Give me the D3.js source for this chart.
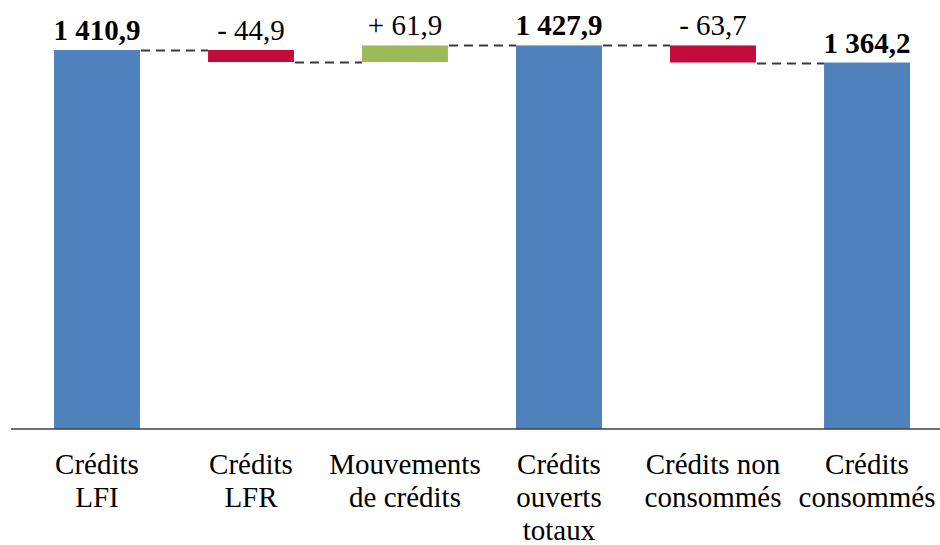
<!DOCTYPE html>
<html>
<head>
<meta charset="utf-8">
<script src="https://cdn.jsdelivr.net/npm/d3@7"></script>
<style>
  body { margin: 0; background: #fff; }
</style>
</head>
<body>
<svg id="chart" width="940" height="545"></svg>
<script>
// waterfall data
const categories = [
  ["Crédits", "LFI"],
  ["Crédits", "LFR"],
  ["Mouvements", "de crédits"],
  ["Crédits", "ouverts", "totaux"],
  ["Crédits non", "consommés"],
  ["Crédits", "consommés"]
];
const values = [1410.9, -44.9, 61.9, 1427.9, -63.7, 1364.2];
const kinds = ["total", "delta", "delta", "total", "delta", "total"];

const layout = {width: 940, height: 545, baseline: 429, left: 20, right: 944};
const fontFamily = "Tinos, 'Times New Roman', serif";

const fr = d3.formatLocale({decimal: ",", thousands: " ", grouping: [3], currency: ["", " €"]});
const fmt = fr.format(",.1f");

// running totals
let running = 0;
const bars = values.map((v, i) => {
  let start, end;
  if (kinds[i] === "total") { start = 0; end = v; running = v; }
  else { start = running; end = running + v; running = end; }
  return {i, v, kind: kinds[i], start, end, lines: categories[i]};
});

const svg = d3.select("#chart");

const x = d3.scaleBand()
  .domain(d3.range(values.length))
  .range([layout.left, layout.right])
  .paddingInner(0.442)
  .paddingOuter(0.221);

const y = d3.scaleLinear()
  .domain([0, 1597])
  .range([layout.baseline, 0]);

const color = d => d.kind === "total" ? "#4F81BD" : (d.v < 0 ? "#C20B3D" : "#9BBB59");

// connectors
const links = bars.slice(0, -1).map((d, i) => ({from: d, to: bars[i + 1]}));
svg.append("g")
  .selectAll("line")
  .data(links)
  .join("line")
  .attr("x1", d => x(d.from.i) + x.bandwidth() + 1)
  .attr("x2", d => x(d.to.i))
  .attr("y1", d => Math.round(y(d.from.end)) + 0.5)
  .attr("y2", d => Math.round(y(d.from.end)) + 0.5)
  .attr("stroke", "#3a3a3a")
  .attr("stroke-width", 2)
  .attr("stroke-dasharray", "9,6");

svg.append("g")
  .selectAll("rect")
  .data(bars)
  .join("rect")
  .attr("x", d => x(d.i))
  .attr("width", x.bandwidth())
  .attr("y", d => y(Math.max(d.start, d.end)))
  .attr("height", d => Math.abs(y(d.start) - y(d.end)))
  .attr("fill", color);

// axis line
svg.append("line")
  .attr("x1", 11).attr("x2", layout.width)
  .attr("y1", layout.baseline).attr("y2", layout.baseline)
  .attr("stroke", "#404040")
  .attr("stroke-width", 1.5);

// value labels
svg.append("g")
  .selectAll("text")
  .data(bars)
  .join("text")
  .attr("x", d => x(d.i) + x.bandwidth() / 2)
  .attr("y", d => y(Math.max(d.start, d.end)) - 10)
  .attr("text-anchor", "middle")
  .attr("font-family", fontFamily)
  .attr("font-size", 29)
  .attr("font-weight", d => d.kind === "total" ? "bold" : "normal")
  .attr("fill", "#000")
  .text(d => d.kind === "total" ? fmt(d.v) : (d.v < 0 ? "- " : "+ ") + fmt(Math.abs(d.v)));

// category labels
svg.append("g")
  .selectAll("text")
  .data(bars)
  .join("text")
  .attr("text-anchor", "middle")
  .attr("font-family", fontFamily)
  .attr("font-size", 29)
  .attr("fill", "#000")
  .selectAll("tspan")
  .data(d => d.lines.map((t, k) => ({t, k, cx: x(d.i) + x.bandwidth() / 2})))
  .join("tspan")
  .attr("x", d => d.cx)
  .attr("y", d => 474 + d.k * 33)
  .text(d => d.t);
</script>
</body>
</html>
